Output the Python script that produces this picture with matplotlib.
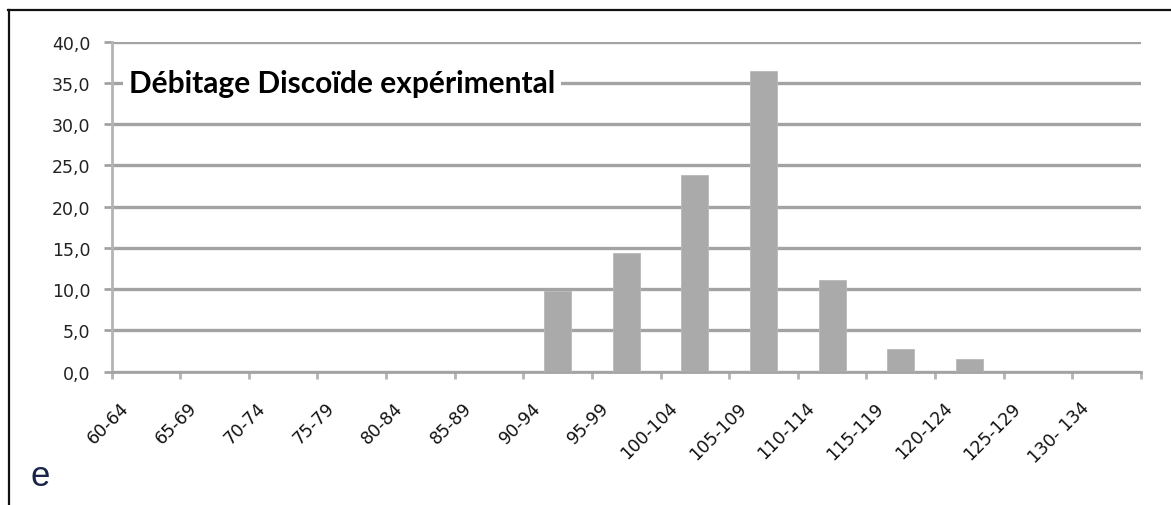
import matplotlib
matplotlib.use("Agg")
import matplotlib.pyplot as plt
import matplotlib.transforms as mtransforms
from matplotlib.lines import Line2D
import numpy as np

# classes de longueur et pourcentages
categories = ['60-64', '65-69', '70-74', '75-79', '80-84', '85-89', '90-94',
              '95-99', '100-104', '105-109', '110-114', '115-119', '120-124',
              '125-129', '130- 134']
values = [0, 0, 0, 0, 0, 0, 9.8, 14.4, 23.8, 36.4, 11.1, 2.8, 1.6, 0, 0]
yticks = [0, 5, 10, 15, 20, 25, 30, 35, 40]
title = 'Débitage Discoïde expérimental'
panel = 'e'

W, H = 1171, 506
fig = plt.figure(figsize=(W / 100, H / 100), dpi=100)
ax = fig.add_axes([111.5 / W, 1 - 372.7 / H, (1141 - 111.5) / W, (372.7 - 42.7) / H])

grid_c = '#a3a3a3'
axis_c = '#b4b4b4'
bar_c = '#aaaaaa'

x = np.arange(len(categories))
ax.bar(x, values, width=0.39, color=bar_c, edgecolor='#b8b8b8', linewidth=0.6, zorder=3)

ax.set_xlim(-0.5, len(categories) - 0.5)
ax.set_ylim(0, 40)
ax.set_yticks(yticks)
ax.set_yticklabels([f'{v:.1f}'.replace('.', ',') for v in yticks],
                   fontsize=12.5, family='DejaVu Sans', color='#222222')
ax.yaxis.grid(True, color=grid_c, linewidth=2.4, zorder=0)
ax.set_axisbelow(True)
ax.tick_params(axis='y', length=6, width=2.0, color=grid_c, pad=9)

# graduations entre les classes
ax.set_xticks(np.arange(-0.5, len(categories), 1.0))
ax.set_xticklabels([])
ax.tick_params(axis='x', length=5, width=2.0, color=axis_c)

for s in ['top', 'right']:
    ax.spines[s].set_visible(False)
ax.spines['left'].set_color(axis_c)
ax.spines['left'].set_linewidth(2.0)
ax.spines['bottom'].set_color(grid_c)
ax.spines['bottom'].set_linewidth(2.0)

# étiquettes inclinées
offset = mtransforms.ScaledTranslation(-20 / 100, -33 / 100, fig.dpi_scale_trans)
for i, lab in enumerate(categories):
    ax.text(i, 0, lab, transform=ax.get_xaxis_transform() + offset,
            rotation=45, rotation_mode='anchor', ha='right', va='center',
            fontsize=12.5, family='DejaVu Sans', color='#111111')

ax.text((129 - 111.5) / (1141 - 111.5), 35, title,
        transform=ax.get_yaxis_transform(), ha='left', va='center',
        fontsize=21.5, fontweight='bold', family='Lato', color='black', zorder=5,
        bbox=dict(facecolor='white', edgecolor='none', pad=4))

fig.text(31 / W, 1 - 477 / H, panel, fontsize=25, family='Liberation Sans',
         color='#1a2448', ha='left', va='center')

# cadre
fig.add_artist(Line2D([8 / W, 1], [1 - 10.7 / H] * 2, transform=fig.transFigure,
                      color='#111111', linewidth=1.6))
fig.add_artist(Line2D([9 / W] * 2, [0, 1 - 10.7 / H], transform=fig.transFigure,
                      color='#111111', linewidth=1.6))

fig.savefig('out.png', dpi=100)
